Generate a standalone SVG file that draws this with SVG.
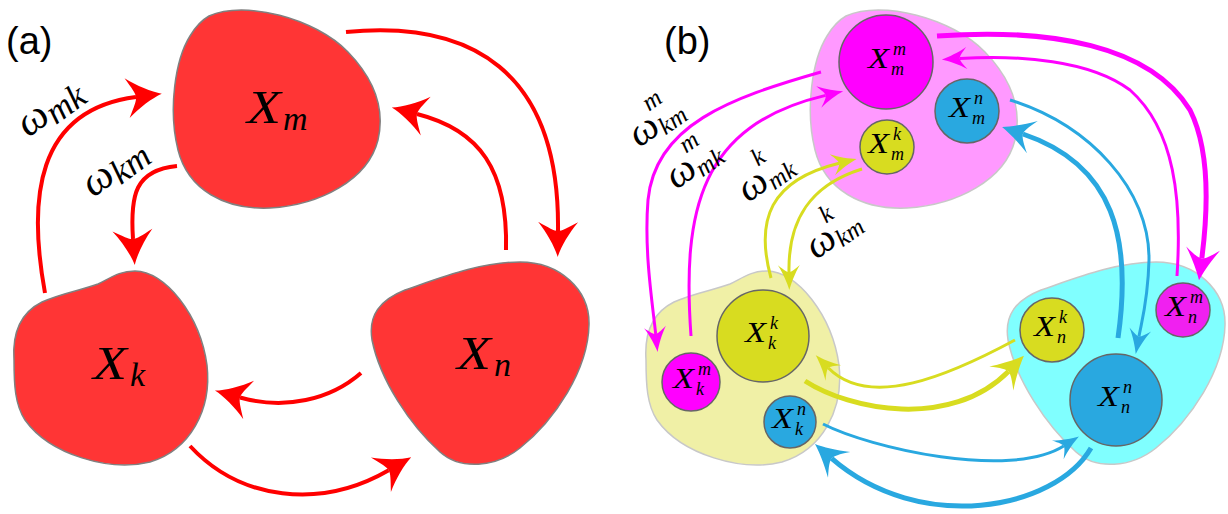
<svg xmlns="http://www.w3.org/2000/svg" width="1228" height="514" viewBox="0 0 1228 514">
<style>
.blobA{fill:#ff3535;stroke:#808080;stroke-width:1.5}
.pink{fill:#ff99ff;stroke:#c8c8c8;stroke-width:1.5}
.ylw{fill:#f0f0a6;stroke:#c8c8c8;stroke-width:1.5}
.cyn{fill:#80ffff;stroke:#c8c8c8;stroke-width:1.5}
.cm{fill:#ff00ff;stroke:#666;stroke-width:1.5}
.cb{fill:#29a8e0;stroke:#666;stroke-width:1.5}
.cy{fill:#d8dc20;stroke:#666;stroke-width:1.5}
.math{font-family:"Liberation Serif","DejaVu Serif",serif;font-style:italic;fill:#000}
.bigX{font-size:47px}
.smX{font-size:30px}
.scr{font-size:18px}
.panel{font-family:"Liberation Sans",Arial,sans-serif;font-size:38px;fill:#000}
.ra{fill:none;stroke:#ff0000;stroke-width:4;marker-end:url(#mRed)}
.mt{fill:none;stroke:#ff00ff;stroke-width:3;marker-end:url(#mMagT)}
.mk{fill:none;stroke:#ff00ff;stroke-width:5;marker-end:url(#mMagK)}
.bt{fill:none;stroke:#29a8e0;stroke-width:3;marker-end:url(#mBluT)}
.bk{fill:none;stroke:#29a8e0;stroke-width:5;marker-end:url(#mBluK)}
.yt{fill:none;stroke:#d8dc20;stroke-width:3;marker-end:url(#mYelT)}
.yk{fill:none;stroke:#d8dc20;stroke-width:5;marker-end:url(#mYelK)}
</style>
<defs>
<path id="hA" d="M26,0 C16,-3 2,-11 -9,-20 C-3,-9 0,-4 0,0 C0,4 -3,9 -9,20 C2,11 16,3 26,0 Z"/>
<path id="hT" d="M18,0 C11,-2 1,-6 -7,-11 C-2,-5 0,-2 0,0 C0,2 -2,5 -7,11 C1,6 11,2 18,0 Z"/>
<path id="hK" d="M22,0 C14,-3 2,-9 -10,-17 C-3,-8 0,-3 0,0 C0,3 -3,8 -10,17 C2,9 14,3 22,0 Z"/>
<marker id="mRed" markerUnits="userSpaceOnUse" orient="auto" refX="0" refY="0" overflow="visible"><use href="#hA" fill="#ff0000"/></marker>
<marker id="mMagT" markerUnits="userSpaceOnUse" orient="auto" refX="0" refY="0" overflow="visible"><use href="#hT" fill="#ff00ff"/></marker>
<marker id="mMagK" markerUnits="userSpaceOnUse" orient="auto" refX="0" refY="0" overflow="visible"><use href="#hK" fill="#ff00ff"/></marker>
<marker id="mBluT" markerUnits="userSpaceOnUse" orient="auto" refX="0" refY="0" overflow="visible"><use href="#hT" fill="#29a8e0"/></marker>
<marker id="mBluK" markerUnits="userSpaceOnUse" orient="auto" refX="0" refY="0" overflow="visible"><use href="#hK" fill="#29a8e0"/></marker>
<marker id="mYelT" markerUnits="userSpaceOnUse" orient="auto" refX="0" refY="0" overflow="visible"><use href="#hT" fill="#d8dc20"/></marker>
<marker id="mYelK" markerUnits="userSpaceOnUse" orient="auto" refX="0" refY="0" overflow="visible"><use href="#hK" fill="#d8dc20"/></marker>
<path id="shpM" d="M 209,16 C 245,0 315,18 348,52 C 375,80 385,110 378,140 C 368,180 320,205 270,208 C 225,210 188,190 178,150 C 168,110 175,60 190,36 C 196,26 202,20 209,16 Z"/>
<path id="shpK" d="M 14,360 C 12,330 22,312 42,302 C 62,293 82,290 98,284 C 112,277 120,271 135,271 C 165,271 200,315 207,365 C 212,410 190,450 150,462 C 110,472 50,455 25,420 C 15,405 14,385 14,360 Z"/>
<path id="shpN" d="M 405,290 C 440,278 480,262 520,262 C 560,262 590,290 589,325 C 588,370 555,420 520,448 C 495,468 460,470 440,452 C 410,425 380,380 372,340 C 368,315 380,300 405,290 Z"/>
</defs>
<rect width="1228" height="514" fill="#fff"/>
<text class="panel" x="6" y="54">(a)</text>
<text class="panel" x="664" y="54">(b)</text>

<!-- panel (a) nodes -->
<g id="a-Xm">
<use href="#shpM" class="blobA"/>
<text class="math bigX" x="247" y="123" textLength="34" lengthAdjust="spacingAndGlyphs">X</text>
<text class="math" x="283" y="130" font-size="34">m</text>
</g>
<g id="a-Xk">
<use href="#shpK" class="blobA"/>
<text class="math bigX" x="93" y="379" textLength="34" lengthAdjust="spacingAndGlyphs">X</text>
<text class="math" x="130" y="386" font-size="34">k</text>
</g>
<g id="a-Xn">
<use href="#shpN" class="blobA"/>
<text class="math bigX" x="457" y="369" textLength="34" lengthAdjust="spacingAndGlyphs">X</text>
<text class="math" x="494" y="376" font-size="34">n</text>
</g>

<!-- panel (b) nodes -->
<g id="b-m">
<use href="#shpM" class="pink" transform="translate(637,0)"/>
<g id="b-Xmm"><circle class="cm" cx="886" cy="62" r="47"/>
<text class="math smX" x="868" y="68" textLength="21" lengthAdjust="spacingAndGlyphs">X</text><text class="math scr" x="893" y="55">m</text><text class="math scr" x="891" y="75">m</text></g>
<g id="b-Xmn"><circle class="cb" cx="967" cy="111" r="32"/>
<text class="math smX" x="949" y="117" textLength="21" lengthAdjust="spacingAndGlyphs">X</text><text class="math scr" x="974" y="104">n</text><text class="math scr" x="972" y="124">m</text></g>
<g id="b-Xmk"><circle class="cy" cx="887" cy="147" r="27"/>
<text class="math smX" x="868" y="153" textLength="21" lengthAdjust="spacingAndGlyphs">X</text><text class="math scr" x="893" y="140">k</text><text class="math scr" x="891" y="160">m</text></g>
</g>
<g id="b-k">
<use href="#shpK" class="ylw" transform="translate(632,0)"/>
<g id="b-Xkk"><circle class="cy" cx="763" cy="336" r="46"/>
<text class="math smX" x="745" y="342" textLength="21" lengthAdjust="spacingAndGlyphs">X</text><text class="math scr" x="770" y="329">k</text><text class="math scr" x="768" y="349">k</text></g>
<g id="b-Xkm"><circle class="cm" cx="691" cy="382" r="29"/>
<text class="math smX" x="673" y="388" textLength="21" lengthAdjust="spacingAndGlyphs">X</text><text class="math scr" x="698" y="375">m</text><text class="math scr" x="696" y="395">k</text></g>
<g id="b-Xkn"><circle class="cb" cx="790" cy="422" r="26"/>
<text class="math smX" x="772" y="428" textLength="21" lengthAdjust="spacingAndGlyphs">X</text><text class="math scr" x="797" y="415">n</text><text class="math scr" x="795" y="435">k</text></g>
</g>
<g id="b-n">
<use href="#shpN" class="cyn" transform="translate(636,0)"/>
<g id="b-Xnk"><circle class="cy" cx="1052" cy="330" r="32"/>
<text class="math smX" x="1034" y="336" textLength="21" lengthAdjust="spacingAndGlyphs">X</text><text class="math scr" x="1059" y="323">k</text><text class="math scr" x="1057" y="343">n</text></g>
<g id="b-Xnm"><circle class="cm" cx="1183" cy="310" r="27" style="fill:#f020f0"/>
<text class="math smX" x="1165" y="316" textLength="21" lengthAdjust="spacingAndGlyphs">X</text><text class="math scr" x="1190" y="303">m</text><text class="math scr" x="1188" y="323">n</text></g>
<g id="b-Xnn"><circle class="cb" cx="1116" cy="400" r="46"/>
<text class="math smX" x="1098" y="406" textLength="21" lengthAdjust="spacingAndGlyphs">X</text><text class="math scr" x="1123" y="393">n</text><text class="math scr" x="1121" y="413">n</text></g>
</g>

<!-- connectors -->
<g id="connectors">
<path class="ra" d="M 45,293 C 28,200 35,110 136,97"/>
<path class="ra" d="M 177,166 C 135,170 130,195 133,239"/>
<path class="ra" d="M 346,32 C 470,20 560,70 558,231"/>
<path class="ra" d="M 506,250 C 508,170 480,130 417,114"/>
<path class="ra" d="M 361,373 C 330,400 285,410 240,397.5"/>
<path class="ra" d="M 190,446 C 240,500 320,510 388.7,470.3"/>

<path class="mt" d="M 821,72 C 730,98 655,125 648,200 C 644,250 652,300 655.7,334"/>
<path class="mt" d="M 691,336 C 682,210 700,125 825.6,95.4"/>
<path class="mk" d="M 937,36 C 1050,28 1150,45 1190,110 C 1210,150 1208,210 1201.8,258.5"/>
<path class="mt" d="M 1177,276 C 1182,200 1175,130 1130,90 C 1090,60 1020,55 959.8,58.5"/>
<path class="bt" d="M 1010,100 C 1090,125 1150,190 1149,260 C 1148,300 1142,320 1139,336.3"/>
<path class="bk" d="M 1118,338 C 1132,240 1115,165 1022.9,134"/>
<path class="bt" d="M 823,424 C 870,448 1010,480 1063.7,446.1"/>
<path class="bk" d="M 1091,448 C 1055,510 920,535 831.6,458.4"/>
<path class="yt" d="M 771,278 C 755,220 770,180 839.1,163.2"/>
<path class="yt" d="M 862,169 C 810,185 788,220 789,272.1"/>
<path class="yt" d="M 1015,340 C 950,375 870,410 828.4,368"/>
<path class="yk" d="M 805,381 C 850,410 950,430 1008.4,371.4"/>
</g>

<!-- connector labels -->
<g id="labels">
<g transform="translate(28,138) rotate(-36)"><text class="math" x="0" y="0" font-size="42">ω</text><text class="math" x="30" y="6" font-size="35">mk</text></g>
<g transform="translate(93,198) rotate(-36)"><text class="math" x="0" y="0" font-size="42">ω</text><text class="math" x="30" y="6" font-size="35">km</text></g>
<g transform="translate(639,148) rotate(-35)"><text class="math" x="0" y="0" font-size="40">ω</text><text class="math" x="29" y="-24" font-size="25">m</text><text class="math" x="29" y="5" font-size="25">km</text></g>
<g transform="translate(676,190) rotate(-35)"><text class="math" x="0" y="0" font-size="40">ω</text><text class="math" x="29" y="-24" font-size="25">m</text><text class="math" x="29" y="5" font-size="25">mk</text></g>
<g transform="translate(748,203) rotate(-35)"><text class="math" x="0" y="0" font-size="40">ω</text><text class="math" x="29" y="-24" font-size="25">k</text><text class="math" x="29" y="5" font-size="25">mk</text></g>
<g transform="translate(816,260) rotate(-35)"><text class="math" x="0" y="0" font-size="40">ω</text><text class="math" x="29" y="-24" font-size="25">k</text><text class="math" x="29" y="5" font-size="25">km</text></g>
</g>
</svg>
